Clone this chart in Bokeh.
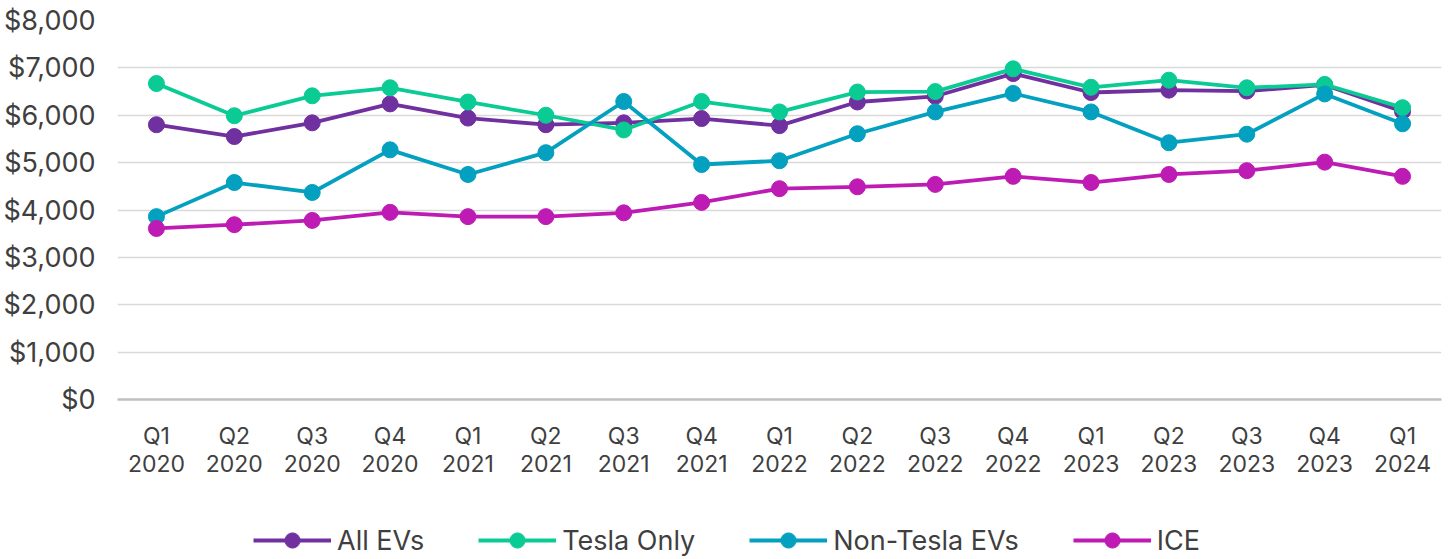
from bokeh.plotting import figure
from bokeh.layouts import column
from bokeh.models import FactorRange, Range1d, Legend, LegendItem, NumeralTickFormatter, FixedTicker
from bokeh.embed import file_html
from bokeh.resources import INLINE

quarters = ["Q1\n2020", "Q2\n2020", "Q3\n2020", "Q4\n2020",
            "Q1\n2021", "Q2\n2021", "Q3\n2021", "Q4\n2021",
            "Q1\n2022", "Q2\n2022", "Q3\n2022", "Q4\n2022",
            "Q1\n2023", "Q2\n2023", "Q3\n2023", "Q4\n2023",
            "Q1\n2024"]

all_evs = [5800, 5550, 5840, 6240, 5940, 5800, 5840, 5930, 5780, 6280, 6400, 6880, 6480, 6530, 6510, 6640, 6080]
tesla_only = [6670, 5990, 6410, 6580, 6280, 6000, 5690, 6290, 6070, 6490, 6500, 6980, 6590, 6740, 6580, 6650, 6160]
non_tesla = [3860, 4580, 4370, 5270, 4750, 5210, 6290, 4960, 5040, 5610, 6070, 6460, 6070, 5420, 5600, 6450, 5820]
ice = [3610, 3690, 3780, 3950, 3860, 3860, 3940, 4160, 4450, 4490, 4540, 4710, 4580, 4750, 4830, 5010, 4710]

series_names = ["All EVs", "Tesla Only", "Non-Tesla EVs", "ICE"]
series_values = [all_evs, tesla_only, non_tesla, ice]
series_colors = ["#7030A0", "#0BCB95", "#04A0BF", "#BD1BB4"]

FONT = "Inter"
TXT = "#3F3F3F"

xr = FactorRange(*quarters, range_padding=0)

p = figure(frame_width=1324, frame_height=379, x_range=xr,
           y_range=Range1d(0, 8000), output_backend="svg", toolbar_location=None,
           min_border_top=20, min_border_right=1, min_border_left=111, min_border_bottom=100)
p.outline_line_color = None

for vals, col in zip(series_values, series_colors):
    p.line(quarters, vals, line_color=col, line_width=3.8)
    p.scatter(quarters, vals, size=16, fill_color=col, line_color=col)

p.xgrid.grid_line_color = None
p.ygrid.grid_line_color = "#D9D9D9"
p.ygrid.grid_line_width = 1.3
p.yaxis.ticker = FixedTicker(ticks=list(range(0, 8001, 1000)))
p.yaxis.formatter = NumeralTickFormatter(format="$0,0")
p.yaxis.axis_line_color = None
p.yaxis.major_tick_line_color = None
p.yaxis.minor_tick_line_color = None
p.yaxis.major_label_text_font = FONT
p.yaxis.major_label_text_font_size = "27px"
p.yaxis.major_label_text_color = TXT
p.yaxis.major_label_standoff = 16

p.xaxis.axis_line_color = "#BFBFBF"
p.xaxis.axis_line_width = 2.5
p.xaxis.major_tick_line_color = None
p.xaxis.minor_tick_line_color = None
p.xaxis.major_label_text_font = FONT
p.xaxis.major_label_text_font_size = "23px"
p.xaxis.major_label_text_color = TXT
p.xaxis.major_label_standoff = 16
p.xaxis.major_label_text_line_height = 1.0

# legend in its own strip below the chart (series drawn off-range, only legend visible)
lg = figure(width=1436, height=60, x_range=xr, y_range=Range1d(0, 1),
            output_backend="svg", toolbar_location=None, x_axis_type=None, y_axis_type=None,
            min_border=0)
lg.outline_line_color = None
lg.xgrid.grid_line_color = None
lg.ygrid.grid_line_color = None
items = []
for name, vals, col in zip(series_names, series_values, series_colors):
    r1 = lg.line(quarters, vals, line_color=col, line_width=4)
    r2 = lg.scatter(quarters, vals, size=15, fill_color=col, line_color=col)
    items.append(LegendItem(label=name, renderers=[r1, r2]))

legend = Legend(items=items, orientation="horizontal", location=(136, 0),
                label_text_font=FONT, label_text_font_size="27px", label_text_color=TXT,
                glyph_width=78, glyph_height=38, spacing=54, label_standoff=6,
                border_line_color=None, background_fill_alpha=0, margin=0, padding=0)
lg.add_layout(legend, "center")

layout = column(p, lg, spacing=0)
open("out.html", "w").write(file_html(layout, INLINE))
